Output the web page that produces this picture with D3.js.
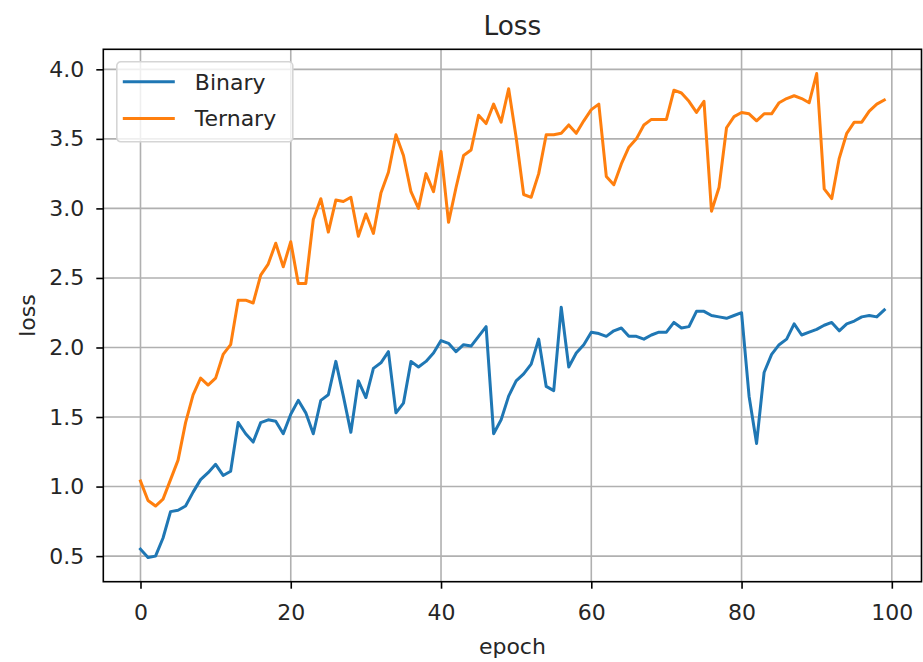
<!DOCTYPE html>
<html>
<head>
<meta charset="utf-8">
<script src="https://cdn.jsdelivr.net/npm/d3@7"></script>
<style>
    body { margin: 0; background: #fff; }
    svg { display: block; font-family: "DejaVu Sans", sans-serif; }
</style>
</head>
<body>
<div id="chart"></div>
<script>
// Loss per epoch
const epochs = d3.range(100);

const binaryLoss = [
    0.55, 0.49, 0.50, 0.63, 0.82, 0.83, 0.86, 0.96, 1.05, 1.10,
    1.16, 1.08, 1.11, 1.46, 1.38, 1.32, 1.46, 1.48, 1.47, 1.38,
    1.52, 1.62, 1.53, 1.38, 1.62, 1.66, 1.90, 1.65, 1.39, 1.76,
    1.64, 1.85, 1.89, 1.97, 1.53, 1.60, 1.90, 1.86, 1.90, 1.96,
    2.05, 2.03, 1.97, 2.02, 2.01, 2.08, 2.15, 1.38, 1.48, 1.65,
    1.76, 1.81, 1.88, 2.06, 1.72, 1.69, 2.29, 1.86, 1.96, 2.02,
    2.11, 2.10, 2.08, 2.12, 2.14, 2.08, 2.08, 2.06, 2.09, 2.11,
    2.11, 2.18, 2.14, 2.15, 2.26, 2.26, 2.23, 2.22, 2.21, 2.23,
    2.25, 1.65, 1.31, 1.82, 1.95, 2.02, 2.06, 2.17, 2.09, 2.11,
    2.13, 2.16, 2.18, 2.12, 2.17, 2.19, 2.22, 2.23, 2.22, 2.27
];

const ternaryLoss = [
    1.04, 0.90, 0.86, 0.91, 1.05, 1.19, 1.46, 1.66, 1.78, 1.73,
    1.78, 1.95, 2.02, 2.34, 2.34, 2.32, 2.52, 2.60, 2.75, 2.58,
    2.76, 2.46, 2.46, 2.92, 3.07, 2.83, 3.06, 3.05, 3.08, 2.80,
    2.96, 2.82, 3.11, 3.26, 3.53, 3.38, 3.12, 3.00, 3.25, 3.12,
    3.41, 2.90, 3.15, 3.38, 3.42, 3.67, 3.61, 3.75, 3.62, 3.86,
    3.51, 3.10, 3.08, 3.25, 3.53, 3.53, 3.54, 3.60, 3.54, 3.63,
    3.71, 3.75, 3.23, 3.17, 3.32, 3.44, 3.50, 3.60, 3.64, 3.64,
    3.64, 3.85, 3.83, 3.77, 3.69, 3.77, 2.98, 3.15, 3.58, 3.66,
    3.69, 3.68, 3.63, 3.68, 3.68, 3.76, 3.79, 3.81, 3.79, 3.76,
    3.97, 3.14, 3.07, 3.36, 3.54, 3.62, 3.62, 3.70, 3.75, 3.78
];

const xTicks = [0, 20, 40, 60, 80, 100];
const yTicks = [0.5, 1.0, 1.5, 2.0, 2.5, 3.0, 3.5, 4.0];

const seriesNames = ['Binary', 'Ternary'];
const seriesColors = ['#1f77b4', '#ff7f0e'];

const width = 923;
const height = 662;
const margin = { top: 49.3, right: 1.5, bottom: 80.3, left: 103.3 };
const fontSize = '22px';

const svg = d3.select('#chart').append('svg')
    .attr('width', width)
    .attr('height', height);

// matplotlib-style 5% margins around the data
const xPad = (epochs[epochs.length - 1] - epochs[0]) * 0.05;
const allLoss = binaryLoss.concat(ternaryLoss);
const [yMin, yMax] = d3.extent(allLoss);
const yPad = (yMax - yMin) * 0.05;

const x = d3.scaleLinear()
    .domain([epochs[0] - xPad, epochs[epochs.length - 1] + xPad])
    .range([margin.left, width - margin.right]);

const y = d3.scaleLinear()
    .domain([yMin - yPad, yMax + yPad])
    .range([height - margin.bottom, margin.top]);

// Grid
const grid = svg.append('g');
grid.selectAll('.vgrid')
    .data(xTicks)
    .enter().append('line')
    .attr('x1', d => x(d)).attr('x2', d => x(d))
    .attr('y1', margin.top).attr('y2', height - margin.bottom)
    .attr('stroke', '#b0b0b0')
    .attr('stroke-width', 1.6);
grid.selectAll('.hgrid')
    .data(yTicks)
    .enter().append('line')
    .attr('x1', margin.left).attr('x2', width - margin.right)
    .attr('y1', d => y(d)).attr('y2', d => y(d))
    .attr('stroke', '#b0b0b0')
    .attr('stroke-width', 1.6);

// Lines
const line = d3.line()
    .x((d, i) => x(epochs[i]))
    .y(d => y(d));

[binaryLoss, ternaryLoss].forEach((values, k) => {
    svg.append('path')
        .datum(values)
        .attr('d', line)
        .attr('fill', 'none')
        .attr('stroke', seriesColors[k])
        .attr('stroke-width', 3)
        .attr('stroke-linejoin', 'round')
        .attr('stroke-linecap', 'square');
});

// Axes
const xAxis = d3.axisBottom(x)
    .tickValues(xTicks)
    .tickFormat(d3.format('d'))
    .tickSize(7)
    .tickPadding(7);

const yAxis = d3.axisLeft(y)
    .tickValues(yTicks)
    .tickFormat(d3.format('.1f'))
    .tickSize(7)
    .tickPadding(12);

const gx = svg.append('g')
    .attr('transform', `translate(0, ${height - margin.bottom})`)
    .call(xAxis);

const gy = svg.append('g')
    .attr('transform', `translate(${margin.left}, 0)`)
    .call(yAxis);

[gx, gy].forEach(g => {
    g.select('.domain').remove();
    g.selectAll('.tick line').attr('stroke', '#000').attr('stroke-width', 1.6);
    g.selectAll('.tick text')
        .attr('fill', '#262626')
        .style('font-size', fontSize)
        .style('font-family', '"DejaVu Sans", sans-serif');
});
gx.selectAll('.tick text').attr('dy', '24px');

// Frame
svg.append('rect')
    .attr('x', margin.left)
    .attr('y', margin.top)
    .attr('width', width - margin.left - margin.right)
    .attr('height', height - margin.top - margin.bottom)
    .attr('fill', 'none')
    .attr('stroke', '#000')
    .attr('stroke-width', 1.6);

// Title and axis labels
svg.append('text')
    .attr('x', (margin.left + width - margin.right) / 2)
    .attr('y', 35)
    .attr('text-anchor', 'middle')
    .attr('fill', '#262626')
    .style('font-size', '26.4px')
    .text('Loss');

svg.append('text')
    .attr('x', (margin.left + width - margin.right) / 2)
    .attr('y', 654)
    .attr('text-anchor', 'middle')
    .attr('fill', '#262626')
    .style('font-size', fontSize)
    .text('epoch');

svg.append('text')
    .attr('transform', `translate(35, ${(margin.top + height - margin.bottom) / 2}) rotate(-90)`)
    .attr('text-anchor', 'middle')
    .attr('fill', '#262626')
    .style('font-size', fontSize)
    .text('loss');

// Legend
const legend = svg.append('g')
    .attr('transform', `translate(${margin.left + 13.5}, ${margin.top + 12.5})`);

legend.append('rect')
    .attr('width', 176)
    .attr('height', 80)
    .attr('rx', 4)
    .attr('fill', 'rgba(255,255,255,0.8)')
    .attr('stroke', '#d5d5d5')
    .attr('stroke-width', 1.6);

seriesNames.forEach((name, k) => {
    const row = legend.append('g')
        .attr('transform', `translate(0, ${20 + k * 36.6})`);
    row.append('line')
        .attr('x1', 6).attr('x2', 58)
        .attr('stroke', seriesColors[k])
        .attr('stroke-width', 3);
    row.append('text')
        .attr('x', 78)
        .attr('dy', '0.35em')
        .attr('fill', '#262626')
        .style('font-size', fontSize)
        .text(name);
});
</script>
</body>
</html>
